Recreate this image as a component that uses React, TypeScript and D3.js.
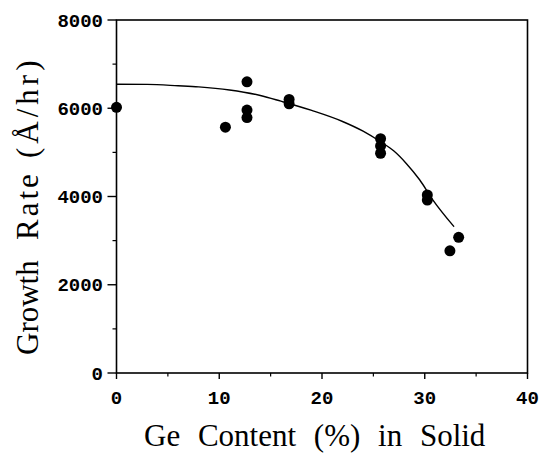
import React from "react";
import * as d3 from "d3";

// measured points (Ge %, growth rate Å/hr)
const pointX = [0, 10.6, 12.7, 12.7, 12.7, 16.8, 16.8, 25.7, 25.7, 25.7, 30.25, 30.25, 32.45, 33.3];
const pointY = [6020, 5570, 6600, 5960, 5790, 6200, 6100, 5310, 5145, 4980, 4035, 3920, 2770, 3075];

// fitted curve
const curveX = [0, 3, 6, 8, 11, 14, 16, 19, 22, 24, 25.7, 27, 28.2, 29.5, 30.8, 32.85];
const curveY = [6543, 6540, 6510, 6485, 6415, 6290, 6160, 5950, 5700, 5480, 5240, 5030, 4750, 4380, 3920, 3316];

const xTicks = [0, 10, 20, 30, 40];
const xMinor = [5, 15, 25, 35];
const yTicks = [0, 2000, 4000, 6000, 8000];
const yMinor = [1000, 3000, 5000, 7000];

const W = 540;
const H = 453;
const left = 116.5, right = 527.5, top = 20, bottom = 373;

const App = () => {
  const x = d3.scaleLinear().domain([0, 40]).range([left, right]);
  const y = d3.scaleLinear().domain([0, 8000]).range([bottom, top]);

  const line = d3
    .line<number>()
    .x((d) => x(curveX[d]))
    .y((d) => y(curveY[d]))
    .curve(d3.curveMonotoneX);

  const tickFont = {fontFamily: "'Liberation Mono', monospace", fontSize: 19, fontWeight: 700};
  const titleFont = {fontFamily: "'Liberation Serif', 'Times New Roman', serif", fontSize: 31};

  return (
    <svg width={W} height={H} style={{position: "absolute", left: 0, top: 0, background: "#fff"}}>
      {/* frame */}
      <rect x={left} y={top} width={right - left} height={bottom - top} fill="none" stroke="#000" strokeWidth={1.6} />

      {/* y ticks */}
      {yTicks.map((t) => (
        <line key={"yt" + t} x1={left - 9} x2={left} y1={y(t)} y2={y(t)} stroke="#000" strokeWidth={1.4} />
      ))}
      {yMinor.map((t) => (
        <line key={"ym" + t} x1={left - 4} x2={left} y1={y(t)} y2={y(t)} stroke="#000" strokeWidth={1.2} />
      ))}
      {yTicks.map((t) => (
        <text key={"yl" + t} x={103} y={y(t)} dy="0.35em" textAnchor="end" style={tickFont}>
          {t}
        </text>
      ))}

      {/* x ticks */}
      {xTicks.map((t) => (
        <line key={"xt" + t} x1={x(t)} x2={x(t)} y1={bottom} y2={bottom + 6} stroke="#000" strokeWidth={1.4} />
      ))}
      {xMinor.map((t) => (
        <line key={"xm" + t} x1={x(t)} x2={x(t)} y1={bottom} y2={bottom + 3.5} stroke="#000" strokeWidth={1.2} />
      ))}
      {xTicks.map((t) => (
        <text key={"xl" + t} x={x(t)} y={397.5} dy="0.35em" textAnchor="middle" style={tickFont}>
          {t}
        </text>
      ))}

      {/* fitted curve */}
      <path d={line(d3.range(curveX.length)) || ""} fill="none" stroke="#000" strokeWidth={1.4} />

      {/* data */}
      {pointX.map((px, i) => (
        <circle key={"p" + i} cx={x(px)} cy={y(pointY[i])} r={5.5} fill="#000" />
      ))}

      {/* axis titles */}
      <text x={144} y={446} style={{...titleFont, wordSpacing: 10}}>
        Ge Content (%) in Solid
      </text>
      <text transform="translate(38,0) rotate(-90)" style={titleFont}>
        <tspan x={-355}>Growth</tspan>
        <tspan x={-240} letterSpacing={3}>Rate</tspan>
        <tspan x={-158} letterSpacing={4}>(Å/hr)</tspan>
      </text>
    </svg>
  );
};

export default App;
